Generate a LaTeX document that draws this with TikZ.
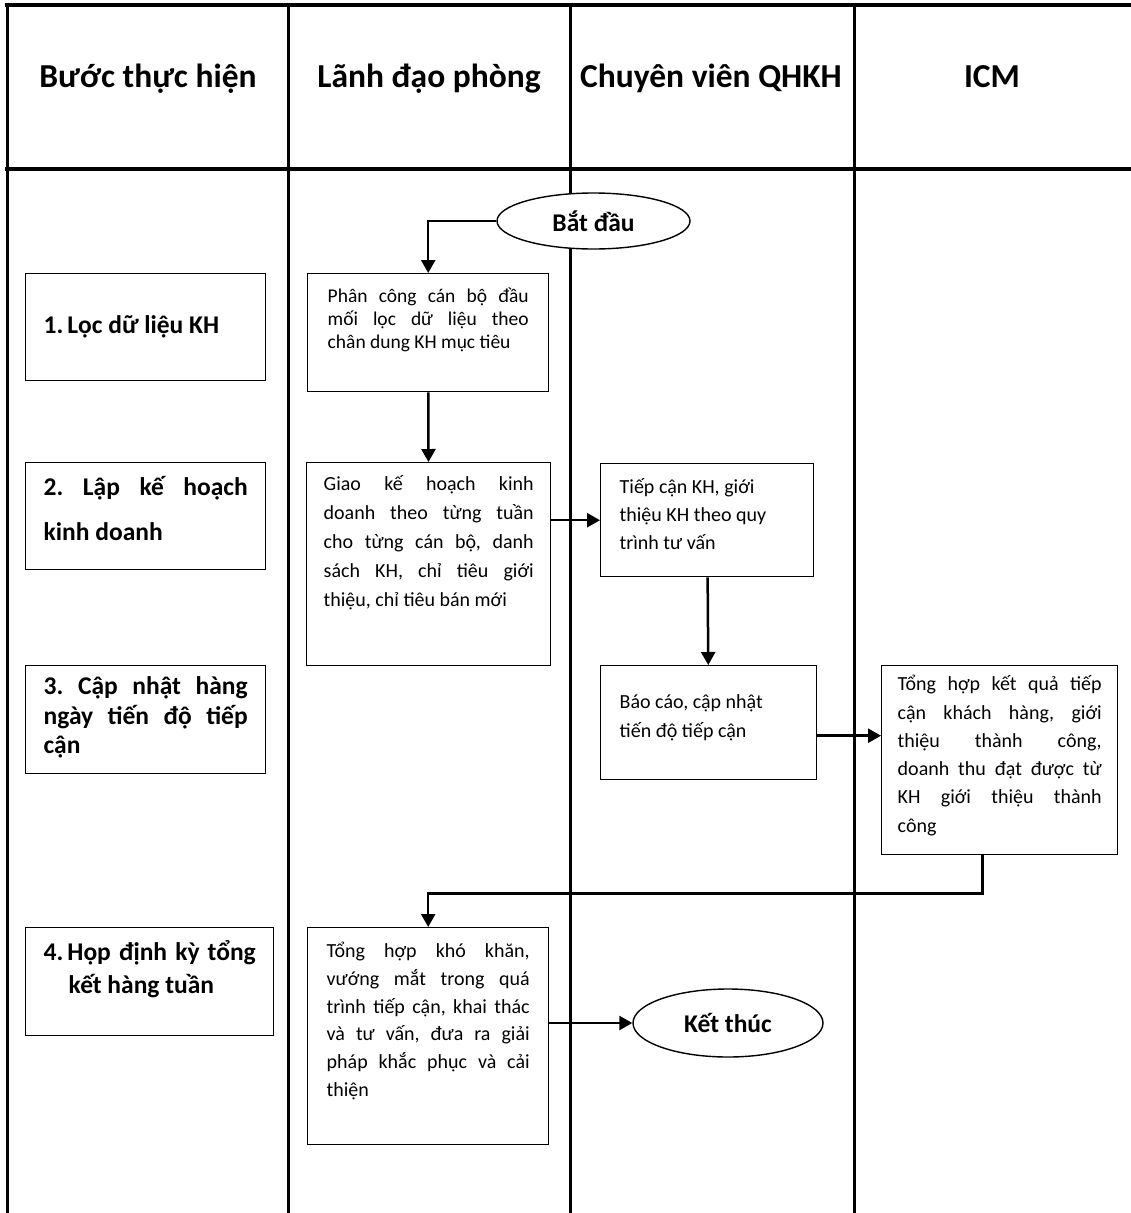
\documentclass[tikz,border=0pt]{standalone}
\usepackage{fontspec}
\setmainfont{Carlito}
\usepackage{tikz}
\usetikzlibrary{shapes.geometric, arrows.meta}
\frenchspacing
\newcommand{\headfont}{\fontsize{33.5pt}{38pt}\selectfont\bfseries}
\newcommand{\stepfont}[1][30pt]{\fontsize{25.5pt}{#1}\selectfont\bfseries}
\newcommand{\bodyfont}[1][28pt]{\fontsize{20pt}{#1}\selectfont}
% box text: height, width, first baseline, text
\newcommand{\celltext}[4]{\parbox[c][#1][t]{#2}{\rule{0pt}{#3}#4}}
\tikzset{
  laneline/.style={line width=3pt},
  frameline/.style={line width=4pt},
  headtext/.style={anchor=base, font=\headfont},
  stepbox/.style={rectangle, draw, line width=1.4pt, fill=white, anchor=north west,
                  inner xsep=18pt, inner ysep=0pt},
  actbox/.style={rectangle, draw, line width=1.4pt, fill=white, anchor=north west,
                 inner ysep=0pt},
  termnode/.style={ellipse, draw, line width=1.4pt, fill=white, inner sep=0pt,
                   font=\stepfont},
  flowarr/.style={-{Triangle[length=13pt, width=14pt]}, line width=2.5pt},
}
\begin{document}
\frenchspacing
\begin{tikzpicture}[x=1pt, y=-1pt]
  \useasboundingbox (0,0) rectangle (1131,1213);
  % lanes
  \draw[frameline] (5,5) -- (1131,5);
  \draw[frameline] (5,169) -- (1131,169);
  \foreach \lx in {7, 288.5, 570, 854}
    \draw[laneline] (\lx,5) -- (\lx,1213);
  % headers
  \node[headtext] (hstep) at (148,87) {Bước thực hiện};
  \node[headtext] (hlead) at (429,87) {Lãnh đạo phòng};
  \node[headtext] (hrm)   at (711,87) {Chuyên viên QHKH};
  \node[headtext] (hicm)  at (992,87) {ICM};
  % steps
  \node[stepbox, font=\stepfont] (s1) at (25,273)
    {\celltext{107pt}{204pt}{60pt}{1.\hspace{4pt}Lọc dữ liệu KH}};
  \node[stepbox, font={\stepfont[45pt]}] (s2) at (25,462)
    {\celltext{107pt}{204pt}{33pt}{2. Lập kế hoạch\linebreak kinh doanh}};
  \node[stepbox, font={\stepfont[29.5pt]}] (s3) at (25,665)
    {\celltext{108pt}{204pt}{29pt}{3. Cập nhật hàng\linebreak ngày tiến độ tiếp\linebreak cận}};
  \node[stepbox, font={\stepfont[33pt]}] (s4) at (25,927)
    {\celltext{108pt}{212pt}{33pt}{4.\hspace{4pt}Họp định kỳ tổng\linebreak\hspace*{25pt}kết hàng tuần}};
  % start / end
  \node[termnode, minimum width=193pt, minimum height=56pt] (start) at (593.5,221) {Bắt đầu};
  \node[termnode, minimum width=190pt, minimum height=68pt] (stop) at (728,1023) {Kết thúc};
  % tasks
  \node[actbox, inner xsep=20pt, font={\fontsize{19.5pt}{23pt}\selectfont}] (A) at (307,273)
    {\celltext{118pt}{201pt}{29pt}{Phân công cán bộ đầu\linebreak mối lọc dữ liệu theo\linebreak chân dung KH mục tiêu}};
  \node[actbox, inner xsep=17pt, font={\bodyfont[29pt]}] (B) at (306,462)
    {\celltext{203pt}{210pt}{28pt}{Giao kế hoạch kinh\linebreak doanh theo từng tuần\linebreak cho từng cán bộ, danh\linebreak sách KH, chỉ tiêu giới\linebreak thiệu, chỉ tiêu bán mới}};
  \node[actbox, inner xsep=19pt, font={\bodyfont[28pt]}] (D) at (600,463)
    {\celltext{113pt}{175pt}{30pt}{Tiếp cận KH, giới\\ thiệu KH theo quy\\ trình tư vấn}};
  \node[actbox, inner xsep=19pt, font={\bodyfont[29pt]}] (E) at (600,665)
    {\celltext{114pt}{178pt}{43pt}{Báo cáo, cập nhật\\ tiến độ tiếp cận}};
  \node[actbox, inner xsep=16pt, font={\bodyfont[28.3pt]}] (F) at (881,665)
    {\celltext{189pt}{204pt}{25pt}{Tổng hợp kết quả tiếp\linebreak cận khách hàng, giới\linebreak thiệu thành công,\linebreak doanh thu đạt được từ\linebreak KH giới thiệu thành\linebreak công}};
  \node[actbox, inner xsep=19pt, font={\bodyfont[27.7pt]}] (C) at (307,927)
    {\celltext{217pt}{203pt}{30pt}{Tổng hợp khó khăn,\linebreak vướng mắt trong quá\linebreak trình tiếp cận, khai thác\linebreak và tư vấn, đưa ra giải\linebreak pháp khắc phục và cải\linebreak thiện}};
  % flow
  \coordinate (eout) at ([yshift=-13pt]E.east);
  \coordinate (fout) at ([xshift=-17pt]F.south);
  \draw[flowarr] (start.west) -| (A.north);
  \draw[flowarr] (A) -- (B);
  \draw[flowarr] (D.west -| B.east) -- (D.west);
  \draw[flowarr] (D) -- (E);
  \draw[flowarr] (eout) -- (eout -| F.west);
  \draw[flowarr] (fout) -- ++(0,38) -| (C.north);
  \draw[flowarr] (stop.west -| C.east) -- (stop.west);
\end{tikzpicture}
\end{document}
